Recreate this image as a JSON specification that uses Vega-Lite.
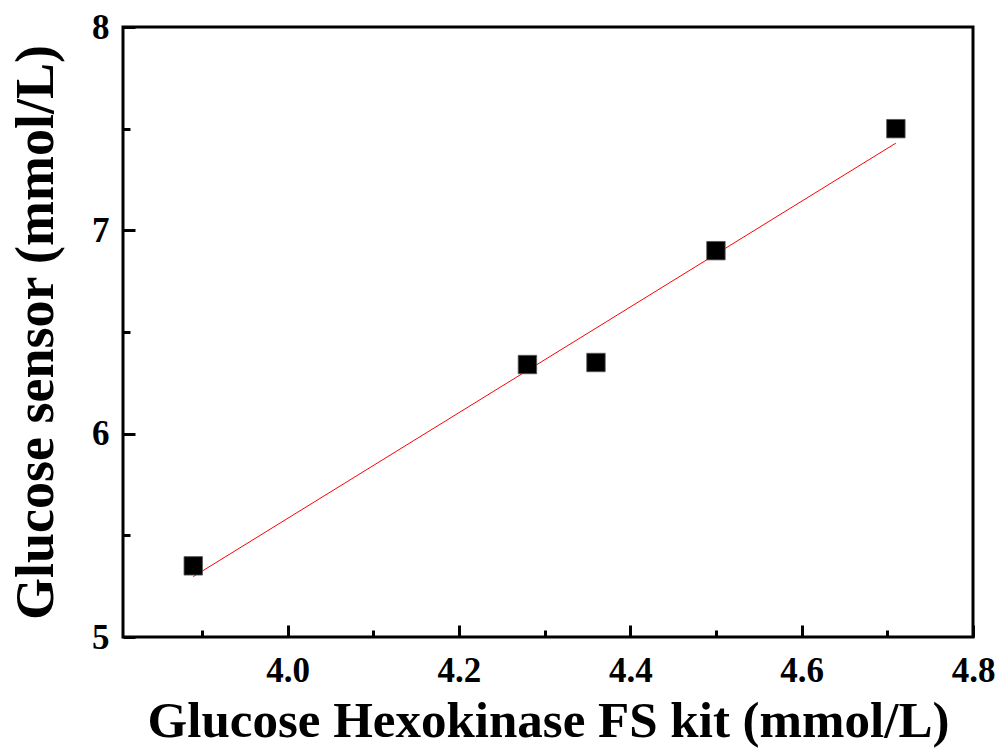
{
  "$schema": "https://vega.github.io/schema/vega-lite/v6.json",
  "width": 850,
  "height": 610,
  "autosize": "none",
  "padding": {"left": 123, "top": 27, "right": 27, "bottom": 117},
  "background": "white",
  "config": {
    "view": {"stroke": "black", "strokeWidth": 3},
    "axis": {
      "domain": false,
      "grid": false,
      "tickColor": "black",
      "tickWidth": 3,
      "labelFont": "Liberation Serif",
      "labelFontWeight": "bold",
      "labelFontSize": 35,
      "labelColor": "black",
      "titleFont": "Liberation Serif",
      "titleFontWeight": "bold",
      "titleColor": "black"
    }
  },
  "datasets": {
    "points": [
      {"kit": 3.89, "sensor": 5.35},
      {"kit": 4.28, "sensor": 6.34},
      {"kit": 4.36, "sensor": 6.35},
      {"kit": 4.50, "sensor": 6.90},
      {"kit": 4.71, "sensor": 7.50}
    ],
    "fit": [
      {"kit": 3.89, "sensor": 5.297},
      {"kit": 4.71, "sensor": 7.429}
    ]
  },
  "layer": [
    {
      "data": {"name": "fit"},
      "mark": {"type": "line", "color": "#ff0000", "strokeWidth": 1},
      "encoding": {
        "x": {
          "field": "kit", "type": "quantitative",
          "scale": {"domain": [3.808, 4.8], "nice": false, "zero": false},
          "axis": {
            "orient": "bottom",
            "offset": -12,
            "values": [4.0, 4.2, 4.4, 4.6, 4.8],
            "format": ".1f",
            "tickSize": 12,
            "labelPadding": 16,
            "labelFlush": false,
            "title": "Glucose Hexokinase FS kit (mmol/L)",
            "titleFontSize": 51,
            "titlePadding": 8
          }
        },
        "y": {
          "field": "sensor", "type": "quantitative",
          "scale": {"domain": [5, 8], "nice": false, "zero": false},
          "axis": {
            "orient": "left",
            "offset": -12,
            "values": [5, 6, 7, 8],
            "format": "d",
            "tickSize": 12,
            "labelPadding": 14,
            "labelFlush": false,
            "title": "Glucose sensor (mmol/L)",
            "titleFontSize": 54,
            "titlePadding": 28
          }
        }
      }
    },
    {
      "data": {"name": "points"},
      "mark": {"type": "square", "size": 340, "filled": true, "color": "black", "opacity": 1, "stroke": "#555555", "strokeWidth": 0.8},
      "encoding": {
        "x": {"field": "kit", "type": "quantitative", "axis": null},
        "y": {"field": "sensor", "type": "quantitative", "axis": null}
      }
    },
    {
      "data": {"name": "points"},
      "mark": {"type": "point", "opacity": 0},
      "encoding": {
        "x": {
          "field": "kit", "type": "quantitative",
          "axis": {"orient": "bottom", "offset": -7, "values": [3.9, 4.1, 4.3, 4.5, 4.7], "labels": false, "title": null, "tickSize": 7}
        },
        "y": {
          "field": "sensor", "type": "quantitative",
          "axis": {"orient": "left", "offset": -7, "values": [5.5, 6.5, 7.5], "labels": false, "title": null, "tickSize": 7}
        }
      }
    }
  ],
  "resolve": {"axis": {"x": "independent", "y": "independent"}}
}
